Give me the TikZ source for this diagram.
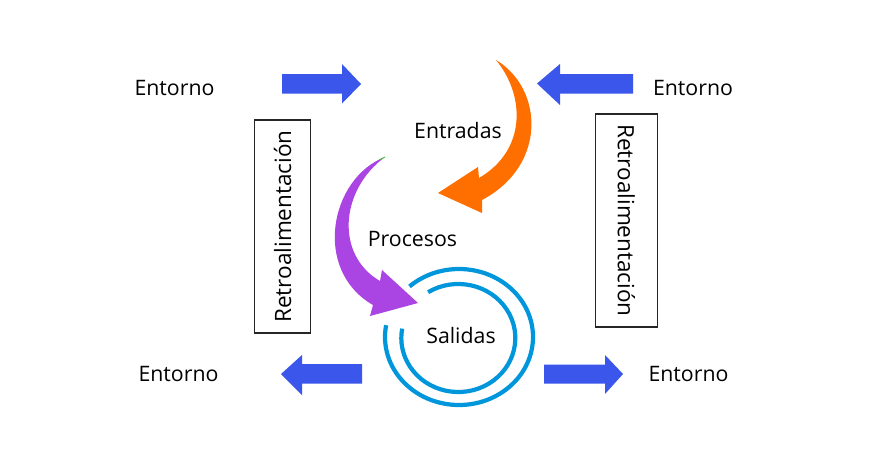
\documentclass[tikz,border=0pt]{standalone}
\usepackage{fontspec}
\setmainfont{Open Sans}
\definecolor{arrblue}{RGB}{58,86,235}
\definecolor{arrorange}{RGB}{255,111,0}
\definecolor{arrpurple}{RGB}{170,68,226}
\definecolor{spiralblue}{RGB}{0,150,220}
\definecolor{tipgreen}{RGB}{60,200,40}
\begin{document}
\begin{tikzpicture}[x=1pt,y=-1pt,
  lbl/.style={font=\fontsize{21.3}{25}\selectfont, inner sep=0pt, anchor=base},
  fbbox/.style={draw=black!85, line width=1.8pt, inner sep=0pt, font=\fontsize{22.5}{26}\selectfont,
     minimum width=213pt},
  blk/.style={fill=arrblue},
  spir/.style={draw=spiralblue, line width=4.2pt}]
\useasboundingbox (0,0) rectangle (873,469);
\fill[white] (0,0) rectangle (873,469);

% texts
\node[lbl] (e1) at (174.5,95) {Entorno};
\node[lbl] (e2) at (693,95) {Entorno};
\node[lbl] (e3) at (178.5,381) {Entorno};
\node[lbl] (e4) at (688.5,381) {Entorno};
\node[lbl] (ent) at (458,138) {Entradas};
\node[lbl] (pro) at (412.5,246.5) {Procesos};
\node[lbl] (sal) at (461,343) {Salidas};

% feedback boxes
\node[fbbox, rotate=90, minimum height=56pt] (fbl) at (282.5,226.5) {Retroalimentación};
\node[fbbox, rotate=-90, minimum height=62pt] (fbr) at (626.5,220.5) {Retroalimentación};

% straight blue arrows
\fill[blk] (282,74) -- (342,74) -- (342,64) -- (361,84) -- (342,103.5) -- (342,93.5) -- (282,93.5) -- cycle;
\fill[blk] (633,74) -- (560,74) -- (560,64) -- (537,83.5) -- (560,105) -- (560,93.5) -- (633,93.5) -- cycle;
\fill[blk] (362,364) -- (302,364) -- (302,355) -- (281,374) -- (302,395) -- (302,383.5) -- (362,383.5) -- cycle;
\fill[blk] (544,364.5) -- (605,364.5) -- (605,355) -- (623,374) -- (605,394) -- (605,383.5) -- (544,383.5) -- cycle;

% orange curved arrow
\fill[arrorange] (496,60) .. controls (543,88) and (548,165) .. (482,200)
  -- (482,213) -- (438,193) -- (478,167) -- (479,178)
  .. controls (527,150) and (525,95) .. (496,60) -- cycle;

% purple curved arrow
\fill[arrpurple] (385,157) .. controls (330,178) and (312,270) .. (373,305)
  -- (370,316) -- (418,303) -- (382,270) -- (380,281)
  .. controls (335,255) and (340,190) .. (385,157) -- cycle;
\draw[tipgreen, line width=0.8pt] (379,160) -- (385,157);

% spiral
\draw[spir] ([shift={(459,337)}] 132:74pt and 68pt) arc[start angle=132, end angle=-190, x radius=74pt, y radius=68pt];
\draw[spir] ([shift={(458.3,338)}] 122:57pt and 54pt) arc[start angle=122, end angle=-190, x radius=57pt, y radius=54pt];
\end{tikzpicture}
\end{document}
